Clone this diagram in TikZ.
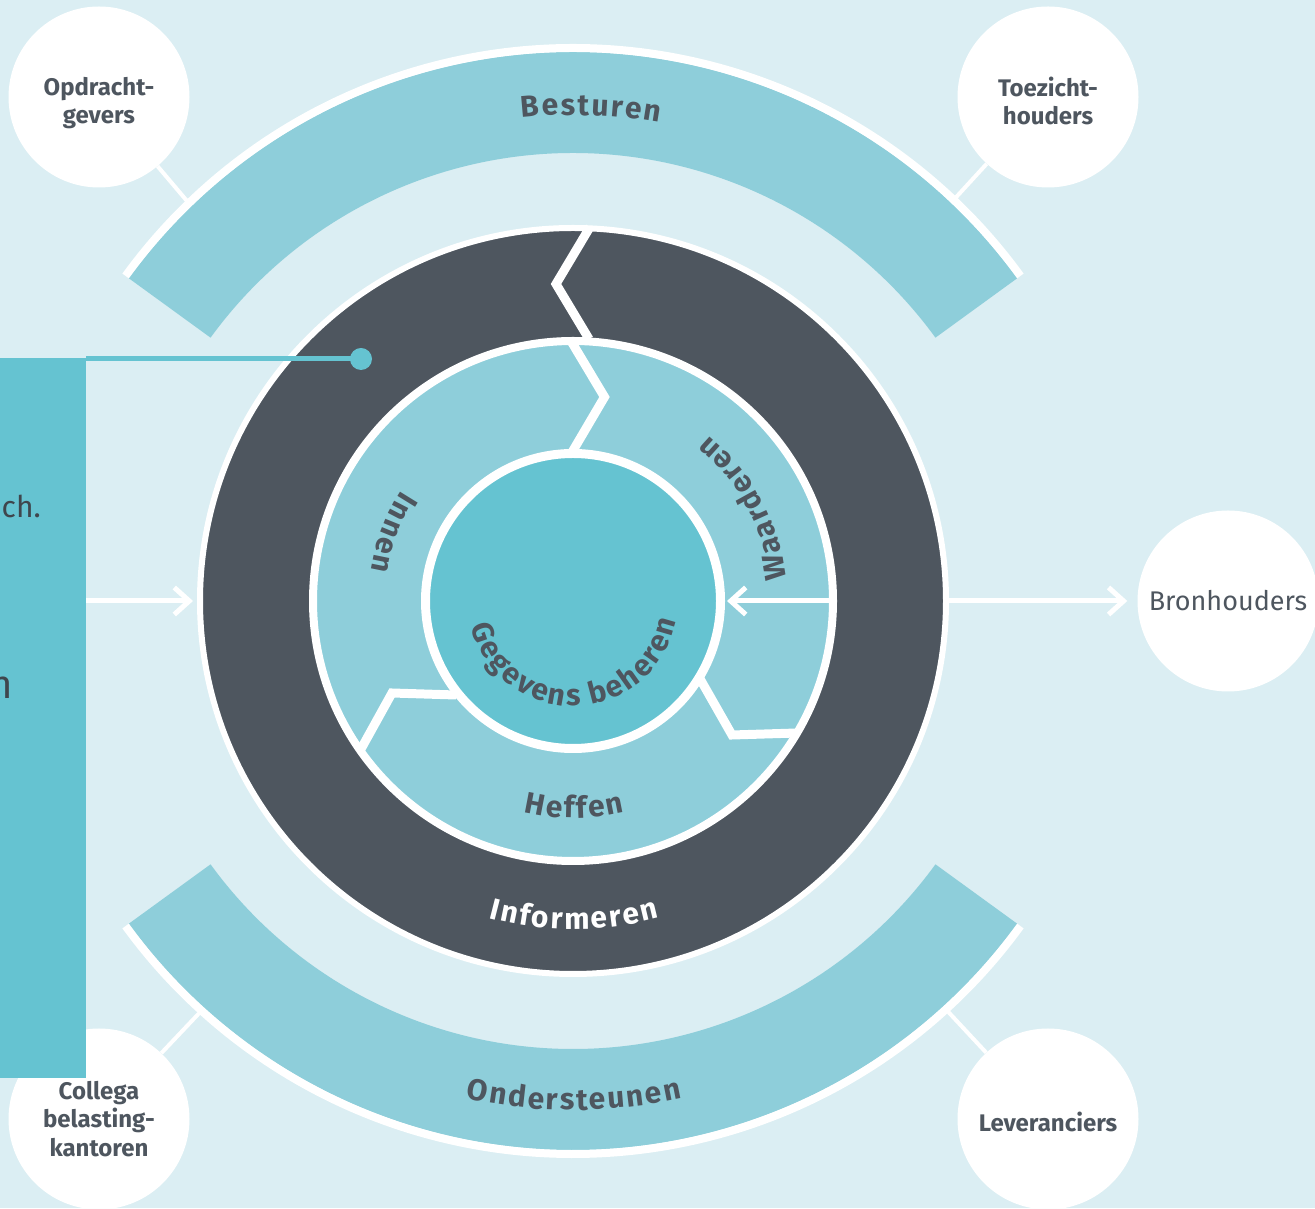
\documentclass[tikz,border=0pt]{standalone}
\usepackage{fontspec}
\setmainfont{Fira Sans}
\usetikzlibrary{arrows.meta,decorations.text}
\definecolor{bgc}{HTML}{DBEEF3}
\definecolor{bandc}{HTML}{8ECEDA}
\definecolor{tealc}{HTML}{65C3D1}
\definecolor{darkc}{HTML}{4E565F}
\definecolor{boxtxt}{HTML}{3F464D}
\newcommand\arcfmt{\bfseries\fontsize{30}{30}\selectfont}
\begin{document}
\begin{tikzpicture}[x=1pt,y=1pt,
  party/.style={circle,fill=white,minimum size=181pt,inner sep=0pt},
  ptext/.style={text=darkc,align=center,inner sep=0pt,font=\fontsize{24}{28.5}\selectfont\bfseries},
  conn/.style={white,line width=4pt},
  divider/.style={white,line width=9pt,line join=miter},
  flow/.style={white,line width=5pt,-{Straight Barb[length=15pt,width=27pt]}},
  ringnode/.style={circle,inner sep=0pt,draw=white},
  arctext/.style={decorate,decoration={text along path,text align=center,text={#1}}}
]
\useasboundingbox (0,0) rectangle (1315,1208);
\fill[bgc] (0,0) rectangle (1315,1208);

% outside parties
\node[party,label={[ptext,yshift=-6pt]center:Opdracht-\\gevers}] (opd) at (99,1111) {};
\node[party,label={[ptext,yshift=-4pt]center:Toezicht-\\houders}] (toe) at (1048,1111) {};
\node[party,label={[ptext]center:Collega\\belasting-\\kantoren}] (col) at (99,89) {};
\node[party,label={[ptext,yshift=-3pt]center:Leveranciers}] (lev) at (1048,89) {};
\node[party,text=darkc,font=\fontsize{27}{32}\selectfont] (bron) at (1228,607) {Bronhouders};

\begin{scope}[shift={(573,607)}]
  % band anchor points
  \coordinate (bNW) at (134:553);
  \coordinate (bNE) at (46.5:553);
  \coordinate (bSW) at (227.8:553);
  \coordinate (bSE) at (312.4:553);
  \draw[conn] (opd) -- (bNW);
  \draw[conn] (toe) -- (bNE);
  \draw[conn] (col) -- (bSW);
  \draw[conn] (lev) -- (bSE);

  % Besturen band
  \fill[bandc] (36:549) arc[start angle=36,end angle=144,radius=549]
     -- (144:448) arc[start angle=144,end angle=36,radius=448] -- cycle;
  \draw[white,line width=8pt] (36:553) arc[start angle=36,end angle=144,radius=553];
  % Ondersteunen band
  \fill[bandc] (216:549) arc[start angle=216,end angle=324,radius=549]
     -- (324:448) arc[start angle=324,end angle=216,radius=448] -- cycle;
  \draw[white,line width=8pt] (216:553) arc[start angle=216,end angle=324,radius=553];

  % rings
  \node[ringnode,fill=darkc,line width=6pt,minimum size=746pt] (dark) at (0,0) {};
  \node[ringnode,fill=bandc,line width=8pt,minimum size=520pt] (light) at (0,0) {};
  \node[ringnode,fill=tealc,line width=9pt,minimum size=295pt] (core) at (0,0) {};

  % dividers
  \draw[divider] (17,374) -- (-17,317) -- (16,262);
  \draw[divider] (-2,260) -- (31.5,204) -- (-2,147);
  \draw[divider] (-117,-94) -- (-181,-92) -- (-212,-148);
  \draw[divider] (126,-76) -- (159,-134) -- (224,-132);

  % inner arrow
  \draw[flow,shorten >=2pt] (light.east) -- (core.east);

  % arc texts
  \path[arctext={|\arcfmt\color{darkc}\kern2pt|Besturen}] (128:486) arc[start angle=128,end angle=48,radius=486];
  \path[arctext={|\arcfmt\color{darkc}\kern2pt|Ondersteunen}] (220:509) arc[start angle=220,end angle=320,radius=509];
  \path[arctext={|\arcfmt\color{white}\kern2pt|Informeren}] (210:328) arc[start angle=210,end angle=330,radius=328];
  \path[arctext={|\arcfmt\color{darkc}\kern2pt|Heffen}] (220:217) arc[start angle=220,end angle=320,radius=217];
  \path[arctext={|\arcfmt\color{darkc}\kern2pt|Waarderen}] (-22:214) arc[start angle=-22,end angle=78,radius=214];
  \path[arctext={|\arcfmt\color{darkc}\kern2pt|Innen}] (124:204) arc[start angle=124,end angle=194,radius=204];
  \path[arctext={|\arcfmt\color{darkc}\kern2pt|Gegevens beheren}] (176:105) arc[start angle=176,end angle=366,radius=105];
\end{scope}

% left panel
\node[fill=tealc,minimum width=86pt,minimum height=720pt,inner sep=0pt,anchor=south west] (box) at (0,130) {};
\node[circle,fill=tealc,minimum size=22pt,inner sep=0pt] (dot) at (361,849) {};
\draw[tealc,line width=5pt] (dot.center) -- (dot.center -| box.east);
\node[anchor=base east,inner sep=0pt,text=boxtxt,font=\fontsize{30}{36}\selectfont] (t1) at (41,690) {ch.};
\node[anchor=base east,inner sep=0pt,text=boxtxt,font=\fontsize{40}{48}\selectfont] (t2) at (13,509) {n};

% flows
\draw[flow,shorten >=4pt] (box.east |- dark.west) -- (dark.west);
\draw[flow,shorten >=10pt] (dark.east) -- (bron.west);
\end{tikzpicture}
\end{document}
